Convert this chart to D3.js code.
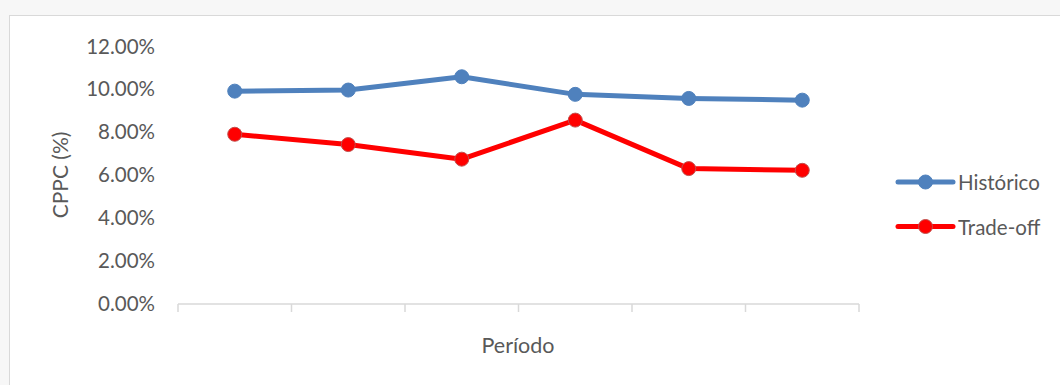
<!DOCTYPE html>
<html>
<head>
<meta charset="utf-8">
<script src="https://cdn.jsdelivr.net/npm/d3@7"></script>
<style>
  body { margin: 0; background: #f7f7f7; }
  svg { display: block; }
  text { font-family: Lato, "Open Sans", sans-serif; fill: #595959; }
</style>
</head>
<body>
<svg id="chart" width="1060" height="385"></svg>
<script>
// data
const periods = ["P1", "P2", "P3", "P4", "P5", "P6"];
const historico = [0.0992, 0.0997, 0.1059, 0.0977, 0.0958, 0.0950];
const tradeoff = [0.0791, 0.0743, 0.0675, 0.0857, 0.0631, 0.0623];
const yTicks = [0, 0.02, 0.04, 0.06, 0.08, 0.10, 0.12];

const seriesList = [
  { name: "Histórico", values: historico, color: "#4f81bd", stroke: "#4f81bd" },
  { name: "Trade-off", values: tradeoff, color: "#ff0000", stroke: "#c0504d" }
];

const svg = d3.select("#chart");

// chart area box
svg.append("rect")
  .attr("x", 9.5).attr("y", 15.5)
  .attr("width", 1070).attr("height", 400)
  .attr("fill", "#fff")
  .attr("stroke", "#d9d9d9");

const plot = { left: 178, right: 859, top: 46.5, bottom: 304 };

const x = d3.scaleBand()
  .domain(periods)
  .range([plot.left, plot.right]);

const y = d3.scaleLinear()
  .domain([0, 0.12])
  .range([plot.bottom, plot.top]);

// x axis with tick marks between categories
const xAxis = svg.append("g")
  .attr("transform", `translate(0,${plot.bottom})`);
xAxis.append("line")
  .attr("x1", plot.left).attr("x2", plot.right)
  .attr("stroke", "#d9d9d9").attr("stroke-width", 1.5);
xAxis.selectAll(".tk")
  .data(periods.concat(["end"]))
  .enter()
  .append("line")
  .attr("class", "tk")
  .attr("x1", (d, i) => i < periods.length ? x(d) : plot.right)
  .attr("x2", (d, i) => i < periods.length ? x(d) : plot.right)
  .attr("y1", 0).attr("y2", 8)
  .attr("stroke", "#d9d9d9").attr("stroke-width", 1.5);

// y tick labels
const yAxis = d3.axisLeft(y)
  .tickValues(yTicks)
  .tickFormat(d3.format(".2%"))
  .tickSize(0)
  .tickPadding(0);

svg.append("g")
  .attr("transform", `translate(155,0)`)
  .call(yAxis)
  .call(g => g.select(".domain").remove())
  .selectAll("text")
  .style("font-size", "20.5px")
  .attr("fill", "#595959");

// axis titles
svg.append("text")
  .attr("transform", "translate(68,175) rotate(-90)")
  .attr("text-anchor", "middle")
  .style("font-size", "21px")
  .text("CPPC (%)");

svg.append("text")
  .attr("x", 518).attr("y", 353)
  .attr("text-anchor", "middle")
  .style("font-size", "21.5px")
  .text("Período");

const line = d3.line()
  .x((d, i) => x(periods[i]) + x.bandwidth() / 2)
  .y(d => y(d));

seriesList.forEach(s => {
  svg.append("path")
    .datum(s.values)
    .attr("fill", "none")
    .attr("stroke", s.color)
    .attr("stroke-width", 5)
    .attr("stroke-linejoin", "round")
    .attr("d", line);

  svg.selectAll(null)
    .data(s.values)
    .enter()
    .append("circle")
    .attr("cx", (d, i) => x(periods[i]) + x.bandwidth() / 2)
    .attr("cy", d => y(d))
    .attr("r", 7)
    .attr("fill", s.color)
    .attr("stroke", s.stroke)
    .attr("stroke-width", 1);
});

// legend
const legend = svg.append("g");
seriesList.forEach((s, i) => {
  const ly = 182 + i * 44.5;
  legend.append("line")
    .attr("x1", 898).attr("x2", 953)
    .attr("y1", ly).attr("y2", ly)
    .attr("stroke", s.color).attr("stroke-width", 5)
    .attr("stroke-linecap", "round");
  legend.append("circle")
    .attr("cx", 925.5).attr("cy", ly).attr("r", 7)
    .attr("fill", s.color).attr("stroke", s.stroke);
  legend.append("text")
    .attr("x", 958).attr("y", ly + 8)
    .style("font-size", "20.5px")
    .text(s.name);
});
</script>
</body>
</html>
